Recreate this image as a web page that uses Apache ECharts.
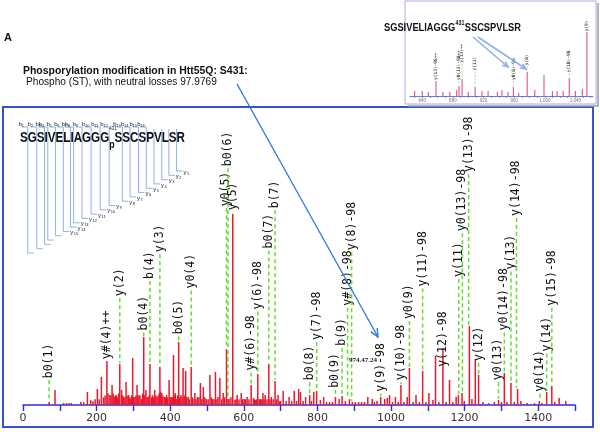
<!DOCTYPE html>
<html><head><meta charset="utf-8">
<script src="https://cdn.jsdelivr.net/npm/echarts@6/dist/echarts.min.js"></script>
<style>html,body{margin:0;padding:0;background:#fff}#c{width:600px;height:432px}</style>
</head><body><div id="c"></div>
<script>
// ---------------- DATA ----------------
const mainPeakMz = [71,87,110,118,125,131,157,165,175,184,190,196,202,207,213,219,223,228,231,236,239,242,245,248,251,254,257,260,263,268,271,274,277,280,283,287,290,292,295,298,301,304,307,310,312,315,318,322,325,328,331,334,337,340,343,345,349,352,355,358,361,364,367,370,372,374,377,380,384,387,390,393,397,400,403,406,409,411,414,418,420,423,426,429,432,435,438,442,445,449,452,457,460,462,467,470,474,478,482,486,490,494,498,503,508,512,515,519,523,527,530,535,540,544,548,553,557,560,565,570,576,579,582,587,593,597,601,605,609,614,620,626,629,632,635,638,642,645,649,652,655,658,663,668,671,675,680,685,689,693,697,700,707,715,723,730,737,743,749,754,761,768,779,784,790,798,808,817,825,833,841,849,859,867,876,887,895,903,912,920,928,937,949,955,962,972,983,990,996,1004,1012,1020,1027,1035,1044,1050,1060,1068,1077,1086,1095,1103,1114,1121,1130,1141,1150,1159,1168,1177,1183,1193,1199,1213,1220,1229,1238,1250,1265,1281,1292,1300,1308,1315,1326,1335,1344,1353,1370,1390,1403,1410,1423,1437,1445,1457,1475];
const mainPeakInt = [1.6,7.9,1,1,1,1,1.6,1.5,6.8,2.6,2,3,8.4,3,14.7,4,5,23,6,5.2,5,10.5,6,4.2,5,5.2,4,6,21.5,7.9,5,4.2,4,12,5,5.2,4,3.1,5,24.6,4,4.2,5,10.5,4,5.2,5,3.1,6,35.6,5,7.9,4,4.2,5,21.5,4,5.2,4,7.9,5,4.2,5,6,19.9,7,6.3,5,4.2,4,5.2,4,13.1,4,4.2,4,26.2,5,6.3,3.1,5,33,4,5.2,4,19.4,5,17.8,4,4.2,3,19.9,4,3.1,6.3,3,4.2,4,11.5,3,9.4,4,3.1,3,15.7,4,3.1,3,17.3,3,4.2,14.1,3,6.3,4,29.3,3,3.1,4,100,2.6,3,5.2,3,6.3,3,3.1,3,4.2,3,10.5,3.7,3,2.6,3,16.2,3,3.1,3,6.3,3,5.2,3,21.5,3,4.2,3,12.6,3,5.2,2,2.1,7.3,2.1,4.2,2.1,7.3,2.1,8.4,6.8,2.1,4.2,5.2,2.1,6.8,7.3,2.6,4.2,1.6,1.6,1.6,4.2,3.1,4.7,2.1,3.1,1.6,1.6,1.6,1.6,1.6,4.2,3.1,1.6,2.1,4.2,3.1,3.7,5.2,1.6,4.2,1.6,10.5,1.6,4.2,19.4,1.6,5.2,1.6,17.8,1.6,6.3,2.6,25.7,1.6,29.8,1.6,13.1,1.6,4.2,5.2,6.3,2.1,41.4,3.1,24.1,15.7,1.6,1,1.6,2.6,1.6,16.8,1.6,11.5,1.6,8.4,2.1,1,1,2.1,1,6.8,9.9,1.6,3.7,2.1];

const annotMz    = [71,228,263,328,345,372,423,457,553,557,572,620,638,668,685,779,798,849,867,882,893,972,1027,1050,1086,1141,1184,1194,1211,1238,1292,1308,1326,1341,1405,1423,1437];
const annotText  = ['b0(1)','y#(4)++','y(2)','b0(4)','b(4)','y(3)','b0(5)','y0(4)','y0(5)','b0(6)','y(5)','y#(6)-98','y(6)-98','b0(7)','b(7)','b0(8)','y(7)-98','b0(9)','b(9)','y#(8)-98','y(8)-98','y(9)-98','y(10)-98','y0(9)','y(11)-98','y(12)-98','y(11)','y0(13)-98','y(13)-98','y(12)','y0(13)','y0(14)-98','y(13)','y(14)-98','y0(14)','y(14)','y(15)-98'];
const annotLevel = [14,24,57,39,66,80,37,61,104,125,102,18,50,82,103,13,34,9,31,52,81,7,13,45,62,20,67,91,122,23,13,39,71,99,7,28,52];

const insetPeakMz  = [830,840,848,858,867,876,885,888,892,900,909,918,926,938,944,952,959,966,977,987,999,1010,1016,1024,1032,1040,1049,1055];
const insetPeakInt = [7.8,7.8,6.3,23.4,6.3,6.3,9.4,15.6,26.6,6.3,14,7.8,7.8,6.3,9.4,6.3,14,4.7,37.5,9.4,32.8,7.8,7.8,7.8,28,7.8,11,100];
const insetAnnotMz    = [858,888,892,909,959,977,1032,1055];
const insetAnnotText  = ['y(13)-98++','y0(13)-98++','y(13)++','y(11)','y0(8)-98','y(8)','y(10)-98','y(9)'];
const insetAnnotLevel = [25,25,52,40,25,48,37,101];
const insetTicks = [840,880,920,960,1000,1040];

const peptide = 'SGSIVELIAGGGSSCSPVLSR'.split('');
const phosphoIndex = 12;
const siteNumber = '431';

const titleText = 'Phosporylation modification in Htt55Q: S431:';
const subtitleText = 'Phospho (ST), with neutral losses 97.9769';
const massNote = '974.47.24';

// ---------------- HELPERS ----------------
const SANS = '"Liberation Sans", Arial, sans-serif';
const MONO = '"DejaVu Sans Mono", monospace';
const mctx = document.createElement('canvas').getContext('2d');
function measure(str, font){ mctx.font = font; return mctx.measureText(str).width; }
function fitSize(str, weight, fam, target){ const w = measure(str, weight+' 100px '+fam); return 100*target/w; }
function txt(x, y, text, font, fill, align, valign, extra){
  return Object.assign({type:'text', x, y, z:20, style:{text, font, fill: fill||'#000',
     textAlign: align||'left', align: align||'left', textVerticalAlign: valign||'middle', verticalAlign: valign||'middle'}}, extra||{});
}
function arrow(x1,y1,x2,y2,color,w,hl){
  const a = Math.atan2(y2-y1, x2-x1), hw = 0.42;
  return [
    {type:'line', z:25, shape:{x1,y1,x2,y2}, style:{stroke:color, lineWidth:w}},
    {type:'polyline', z:25, shape:{points:[[x2-hl*Math.cos(a-hw), y2-hl*Math.sin(a-hw)],[x2,y2],[x2-hl*Math.cos(a+hw), y2-hl*Math.sin(a+hw)]]}, style:{stroke:color, lineWidth:w, fill:null}}
  ];
}
function nearestPeak(mzArr, intArr, m, tol){
  let best = -1, bd = 1e9;
  for (let i=0;i<mzArr.length;i++){ const d=Math.abs(mzArr[i]-m); if (d<bd && d<=tol){bd=d;best=i;} }
  return best<0 ? 0 : intArr[best];
}

// ---------------- GRAPHICS ----------------
const G = [];
G.push({type:'rect', z:0, shape:{x:3, y:107, width:590, height:320}, style:{fill:'transparent', stroke:'#3552cf', lineWidth:2}});
G.push({type:'rect', z:0, shape:{x:405, y:1, width:191, height:103}, style:{fill:'#fff', stroke:'#a8a8ea', lineWidth:1}});
G.push({type:'polyline', z:0, shape:{points:[[598,3],[598,106],[408,106]]}, style:{stroke:'#9a9aa8', lineWidth:1.5, fill:null}});

G.push(txt(4, 38, 'A', 'bold 11px '+SANS, '#111'));
G.push(txt(23, 71, titleText, 'bold '+fitSize(titleText,'bold',SANS,225).toFixed(2)+'px '+SANS, '#111'));
G.push(txt(26, 82, subtitleText, fitSize(subtitleText,'normal',SANS,191).toFixed(2)+'px '+SANS, '#111'));
G.push(txt(349, 360, massNote, 'bold 7px "Liberation Serif", serif', '#222'));

G.push(...arrow(237, 84, 378, 337, '#2a77dc', 1.3, 9));

// inset peptide (condensed via scaleX)
(function(){
  const p1 = 'SGSIVELIAGGG', p2 = 'SSCSPVLSR';
  const fs = 11.5;
  const f = 'bold '+fs+'px '+SANS;
  const fS = 'bold 6.5px '+SANS;
  const w1 = measure(p1, f), w2 = measure(p2, f), ws = measure(siteNumber, fS);
  const s = 137/(w1+w2+ws+1);
  const x0 = 384;
  G.push(txt(x0, 28, p1, f, '#111', 'left', 'middle', {scaleX:s}));
  G.push(txt(x0+(w1+0.5)*s, 23.5, siteNumber, fS, '#111', 'left', 'middle', {scaleX:s}));
  G.push(txt(x0+(w1+ws+1)*s, 28, p2, f, '#111', 'left', 'middle', {scaleX:s}));
  G.push(...arrow(473, 37, 508, 67, '#8fb0e6', 1.6, 6));
  G.push(...arrow(478, 37, 526, 69, '#8fb0e6', 1.6, 6));
})();

// fragment diagram
(function(){
  const x0 = 20, yMid = 138;
  const f = 'bold 14.5px '+SANS;
  const fp = 'bold 11px '+SANS;
  const wFull = measure(peptide.join(''), f) + measure('p', fp);
  const s = 165/wFull;
  let x = x0;
  const bounds = [];
  const chars = [];
  peptide.forEach((ch, i) => {
    if (i === phosphoIndex){
      chars.push(txt(x, yMid+7, 'p', fp, '#111', 'left', 'middle', {scaleX:s}));
      chars.push(txt(x, yMid-9, siteNumber, '4.5px '+SANS, '#111'));
      x += measure('p', fp)*s;
    }
    chars.push(txt(x, yMid, ch, f, '#111', 'left', 'middle', {scaleX:s}));
    x += measure(ch, f)*s;
    if (i < peptide.length-1) bounds.push(x);
  });
  const col = '#8cb3e6';
  const n = bounds.length;
  bounds.forEach((bx, k) => {
    const kk = k+1;
    const depth = 253 - k*(82/(n-1));
    G.push({type:'polyline', z:5, shape:{points: kk<=16 ? [[bx-6,127],[bx,127],[bx,depth],[bx+6,depth]] : [[bx,129],[bx,depth],[bx+6,depth]]}, style:{stroke:col, lineWidth:1, fill:null}});
    if (kk <= 16){
      G.push(txt(bx-9, 124, 'b', '6px '+SANS, '#222'));
      G.push(txt(bx-6, 126, String(kk), '4px '+SANS, '#222'));
    }
    const yi = peptide.length - kk;
    if (yi <= 15){
      G.push(txt(bx+7, depth+1, 'y', '6px '+SANS, '#222'));
      G.push(txt(bx+10.5, depth+2.5, String(yi), '4px '+SANS, '#222'));
    }
  });
  G.push(...chars);
})();

// ---------------- SERIES ----------------
function peakRender(color, w){
  return function(params, api){
    const b = api.coord([api.value(0), 0]);
    const t = api.coord([api.value(0), api.value(1)]);
    return {type:'rect', shape:{x:b[0]-w/2, y:t[1], width:w, height:Math.max(0.6, b[1]-t[1])}, style:{fill:color}};
  };
}
function annotRender(texts, font, lw, dash, gap, lineCol){
  return function(params, api){
    const i = params.dataIndex;
    const m = api.value(0);
    const pl = api.coord([m, api.value(1)]);
    const pp = api.coord([m, api.value(2)]);
    const ch = [];
    if (pp[1] - pl[1] > gap*2) ch.push({type:'line', shape:{x1:pl[0], y1:pl[1]+gap, x2:pp[0], y2:pp[1]-1}, style:{stroke:lineCol, lineWidth:lw, lineDash:dash}});
    ch.push({type:'text', x:pl[0], y:pl[1], rotation:Math.PI/2, style:{text:texts[i], font, fill:'#111', textAlign:'left', align:'left', textVerticalAlign:'middle', verticalAlign:'middle'}});
    return {type:'group', children:ch};
  };
}

const mainData = mainPeakMz.map((m,i)=>[m, mainPeakInt[i]]);
const annotData = annotMz.map((m,i)=>[m, annotLevel[i], nearestPeak(mainPeakMz, mainPeakInt, m, 5)]);
const insetData = insetPeakMz.map((m,i)=>[m, insetPeakInt[i]]);
const insetAnnotData = insetAnnotMz.map((m,i)=>[m, insetAnnotLevel[i], nearestPeak(insetPeakMz, insetPeakInt, m, 3)]);

const option = {
  animation: false,
  backgroundColor: '#fff',
  grid: [
    {left:23, width:552, top:105, height:300},
    {left:410, width:183, top:30, height:66}
  ],
  xAxis: [
    {gridIndex:0, type:'value', min:0, max:1500, interval:100,
     axisLine:{lineStyle:{color:'#2c2ce6', width:1.6}},
     axisTick:{length:6, lineStyle:{color:'#2c2ce6', width:1.4}},
     axisLabel:{color:'#333', fontSize:11, fontFamily:'"DejaVu Sans", sans-serif', margin:8, formatter:v=> v%200===0 ? String(v) : ''},
     splitLine:{show:false}},
    {gridIndex:1, type:'value', min:824, max:1063,
     axisLine:{lineStyle:{color:'#7474d2', width:1}},
     axisTick:{length:2, customValues:[830,840,850,860,870,880,890,900,910,920,930,940,950,960,970,980,990,1000,1010,1020,1030,1040,1050,1060], lineStyle:{color:'#7474d2', width:0.8}},
     axisLabel:{customValues:insetTicks, color:'#777', fontSize:4.5, margin:2},
     splitLine:{show:false}}
  ],
  yAxis: [
    {gridIndex:0, type:'value', min:0, max:300/191*100, show:false},
    {gridIndex:1, type:'value', min:0, max:66/64*100, show:false}
  ],
  series: [
    {type:'custom', xAxisIndex:0, yAxisIndex:0, data:mainData, encode:{x:0,y:1}, renderItem:peakRender('#e8192c',1.5), clip:false, z:3},
    {type:'custom', xAxisIndex:0, yAxisIndex:0, data:annotData, encode:{x:0,y:1}, renderItem:annotRender(annotText, '11.5px '+MONO, 1.5, [4,3], 2, '#62de2e'), clip:false, z:4},
    {type:'custom', xAxisIndex:1, yAxisIndex:1, data:insetData, encode:{x:0,y:1}, renderItem:peakRender('#e0508a',1.1), clip:false, z:3},
    {type:'custom', xAxisIndex:1, yAxisIndex:1, data:insetAnnotData, encode:{x:0,y:1}, renderItem:annotRender(insetAnnotText, '4.5px '+MONO, 0.8, [2,1.5], 1, '#8ad86a'), clip:false, z:4}
  ],
  graphic: {elements: G}
};
const chart = echarts.init(document.getElementById('c'));
chart.setOption(option);
</script>
</body></html>
